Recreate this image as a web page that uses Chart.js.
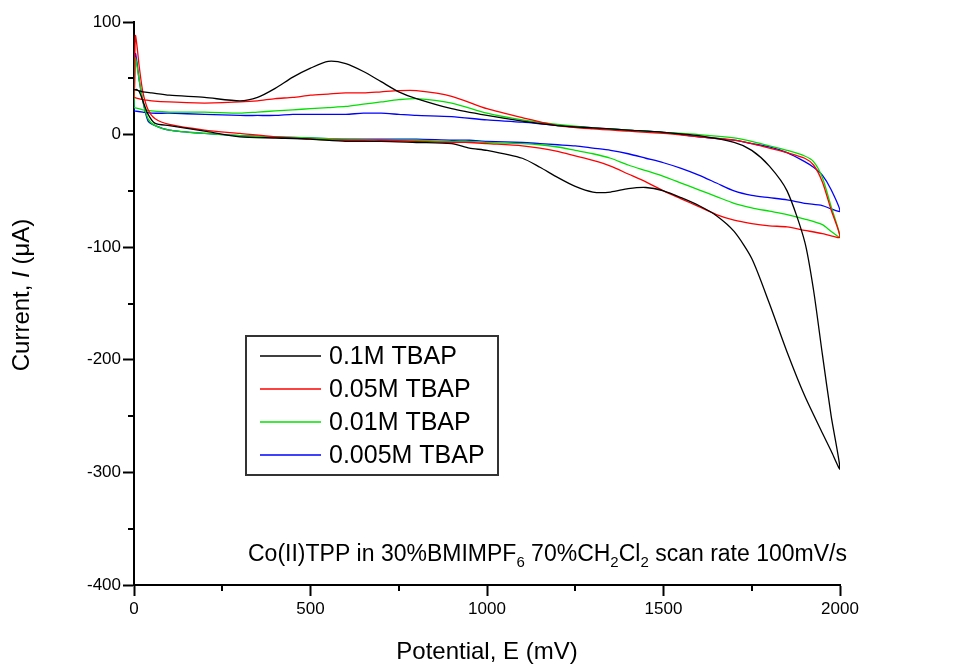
<!DOCTYPE html>
<html>
<head>
<meta charset="utf-8">
<script src="https://cdn.jsdelivr.net/npm/chart.js@4.4.1/dist/chart.umd.min.js"></script>
<style>
  html, body { margin: 0; padding: 0; background: #fff; }
  #wrap { width: 953px; height: 668px; }
</style>
</head>
<body>
<div id="wrap"><canvas id="cv"></canvas></div>
<script>
// labels and colours of the four TBAP concentrations
const seriesLabels = ['0.1M TBAP', '0.05M TBAP', '0.01M TBAP', '0.005M TBAP'];
const seriesColors = ['#000000', '#ff0000', '#00e000', '#0000ff'];

// potential (mV): forward sweep 0 -> 2000, then reverse 2000 -> 0
const forwardE = [0, 25, 50, 100, 200, 300, 350, 400, 450, 500, 550, 600, 650, 700, 750, 800,
  900, 1000, 1100, 1200, 1300, 1400, 1500, 1600, 1700, 1750, 1800, 1850, 1900, 1925, 1950, 1975, 2000];
const reverseE = [1975, 1950, 1900, 1850, 1800, 1750, 1700, 1650, 1600, 1550, 1500, 1450, 1400, 1350,
  1300, 1250, 1200, 1150, 1100, 1000, 950, 900, 800, 700, 600, 500, 400, 300, 200, 100, 60, 40, 25, 15, 8, 4, 0];

// current (uA) on the forward sweep
const fwd01 = [40, 38, 37, 35, 33, 30, 33, 41, 51, 59, 65, 63, 56, 47, 38, 32,
  23, 17, 12, 8, 6, 4, 2, -1, -7, -14, -28, -50, -95, -138, -195, -250, -297];
const fwd005 = [33, 31, 30, 29, 28, 29, 30, 32, 33, 35, 36, 37, 37, 38, 39, 39,
  34, 23, 15, 8, 5, 3, 1, -2, -5, -8, -12, -16, -21, -27, -42, -67, -91];
const fwd001 = [24, 22, 21, 20, 20, 19, 20, 21, 22, 23, 24, 25, 27, 29, 31, 32,
  28, 19, 13, 9, 6, 4, 2, 0, -3, -6, -10, -14, -19, -24, -38, -64, -91];
const fwd0005 = [21, 20, 19, 19, 18, 17, 17, 17, 18, 18, 18, 18, 19, 19, 18, 17,
  16, 13, 11, 8, 6, 4, 2, -2, -5, -8, -11, -16, -24, -29, -36, -49, -68];

// current (uA) on the reverse sweep
const rev01 = [-281, -265, -232, -193, -150, -110, -86, -72, -63, -56, -50, -47, -48, -51,
  -51, -46, -38, -29, -21, -14, -12, -8, -7, -6, -6, -4, -3, -2, 3, 8, 10, 18, 30, 38, 40, 40, 40];
const rev005 = [-90, -88, -85, -82, -81, -79, -76, -71, -64, -57, -50, -42, -35, -28,
  -23, -19, -15, -12, -10, -8, -7, -7, -6, -5, -5, -4, -2, 1, 4, 9, 14, 22, 38, 60, 80, 88, 33];
const rev001 = [-86, -80, -75, -71, -68, -65, -61, -55, -49, -43, -37, -32, -27, -21,
  -17, -14, -11, -9, -8, -7, -6, -6, -5, -5, -4, -3, -2, -1, 1, 4, 8, 14, 30, 48, 62, 68, 24];
const rev0005 = [-66, -63, -61, -58, -56, -54, -50, -43, -36, -30, -25, -21, -17, -14,
  -12, -10, -9, -8, -7, -6, -5, -5, -4, -4, -4, -3, -2, -1, 1, 4, 8, 12, 30, 48, 65, 72, 21];

const forwardI = [fwd01, fwd005, fwd001, fwd0005];
const reverseI = [rev01, rev005, rev001, rev0005];

const FONT = "'Liberation Sans', Arial, sans-serif";

function loop(k) {
  const pts = forwardE.map((e, i) => ({ x: e, y: forwardI[k][i] }));
  return pts.concat(reverseE.map((e, i) => ({ x: e, y: reverseI[k][i] })));
}

const datasets = seriesLabels.map((lab, k) => ({
  label: lab,
  data: loop(k),
  borderColor: seriesColors[k],
  borderWidth: 1.3,
  showLine: true,
  pointRadius: 0,
  tension: 0.25,
  fill: false
}));

// minor ticks halfway between the labelled ones
const minorTicks = {
  id: 'minorTicks',
  afterDraw(chart) {
    const { ctx, scales: { x, y }, chartArea: a } = chart;
    ctx.save();
    ctx.strokeStyle = '#000';
    ctx.lineWidth = 2;
    ctx.beginPath();
    for (let v = 250; v < 2000; v += 500) {
      const px = Math.round(x.getPixelForValue(v));
      ctx.moveTo(px, a.bottom); ctx.lineTo(px, a.bottom + 6);
    }
    for (let v = -350; v < 100; v += 100) {
      const py = Math.round(y.getPixelForValue(v));
      ctx.moveTo(a.left, py); ctx.lineTo(a.left - 6, py);
    }
    ctx.stroke();
    ctx.restore();
  }
};

// y title with italic I
const yTitle = {
  id: 'yTitle',
  afterDraw(chart) {
    const ctx = chart.ctx;
    const parts = [['Current, ', 'normal'], ['I', 'italic'], [' (\u03bcA)', 'normal']];
    ctx.save();
    ctx.translate(22, 295);
    ctx.rotate(-Math.PI / 2);
    ctx.fillStyle = '#000';
    ctx.textBaseline = 'middle';
    let w = 0;
    parts.forEach(p => { ctx.font = p[1] + ' 24px ' + FONT; w += ctx.measureText(p[0]).width; });
    let cx = -w / 2;
    parts.forEach(p => {
      ctx.font = p[1] + ' 24px ' + FONT;
      ctx.fillText(p[0], cx, 0);
      cx += ctx.measureText(p[0]).width;
    });
    ctx.restore();
  }
};

// boxed legend inside the plot
const boxLegend = {
  id: 'boxLegend',
  afterDraw(chart) {
    const { ctx, chartArea: a } = chart;
    const left = a.left + 112, top = a.top + 314, w = 252, h = 139;
    ctx.save();
    ctx.fillStyle = '#fff';
    ctx.fillRect(left, top, w, h);
    ctx.strokeStyle = '#333';
    ctx.lineWidth = 2;
    ctx.strokeRect(left, top, w, h);
    ctx.font = '25px ' + FONT;
    ctx.textBaseline = 'middle';
    chart.data.datasets.forEach((ds, i) => {
      const yy = top + 20 + i * 33;
      ctx.strokeStyle = ds.borderColor;
      ctx.lineWidth = 1.3;
      ctx.beginPath();
      ctx.moveTo(left + 14, yy); ctx.lineTo(left + 75, yy);
      ctx.stroke();
      ctx.fillStyle = '#000';
      ctx.fillText(ds.label, left + 83, yy + 1);
    });
    ctx.restore();
  }
};

// caption with subscripts
const caption = {
  id: 'caption',
  afterDraw(chart) {
    const { ctx, chartArea: a } = chart;
    const parts = [['Co(II)TPP in 30%BMIMPF', 0], ['6', 1], [' 70%CH', 0], ['2', 1],
      ['Cl', 0], ['2', 1], [' scan rate 100mV/s', 0]];
    let cx = a.left + 114;
    const base = a.bottom - 24;
    ctx.save();
    ctx.fillStyle = '#000';
    ctx.textBaseline = 'alphabetic';
    parts.forEach(p => {
      ctx.font = (p[1] ? '15px ' : '23px ') + FONT;
      ctx.fillText(p[0], cx, base + (p[1] ? 6 : 0));
      cx += ctx.measureText(p[0]).width;
    });
    ctx.restore();
  }
};

new Chart(document.getElementById('cv'), {
  type: 'scatter',
  data: { datasets: datasets },
  options: {
    responsive: true,
    maintainAspectRatio: false,
    animation: false,
    layout: { padding: { left: 0, top: 22, right: 113, bottom: 0 } },
    plugins: { legend: { display: false }, tooltip: { enabled: false } },
    scales: {
      x: {
        type: 'linear', min: 0, max: 2000,
        ticks: { stepSize: 500, color: '#000', padding: 3, maxRotation: 0, font: { family: FONT, size: 17 },
          callback: v => String(v) },
        grid: { drawOnChartArea: false, tickLength: 11, tickWidth: 2, tickColor: '#000' },
        border: { color: '#000', width: 2 },
        title: { display: true, text: 'Potential, E (mV)', color: '#000', font: { family: FONT, size: 24 }, padding: { top: 0, bottom: 1 } },
        afterFit: s => { s.height = 83; }
      },
      y: {
        type: 'linear', min: -400, max: 100,
        ticks: { stepSize: 100, color: '#000', padding: 2, font: { family: FONT, size: 17 },
          callback: v => String(v) },
        grid: { drawOnChartArea: false, tickLength: 11, tickWidth: 2, tickColor: '#000' },
        border: { color: '#000', width: 2 },
        afterFit: s => { s.width = 134; }
      }
    }
  },
  plugins: [minorTicks, yTitle, boxLegend, caption]
});
</script>
</body>
</html>
